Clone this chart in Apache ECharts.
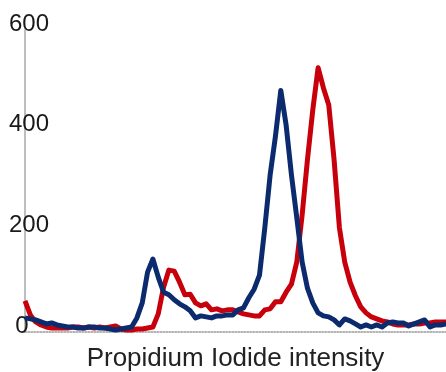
<!DOCTYPE html>
<html>
<head>
<meta charset="utf-8">
<script src="https://cdn.jsdelivr.net/npm/echarts@6/dist/echarts.min.js"></script>
<style>
html,body{margin:0;padding:0;background:#fff;}
#c{width:446px;height:372px;}
</style>
</head>
<body>
<div id="c"></div>
<script>
// channel index (x categories, unlabeled)
const channels = Array.from({length: 80}, (_, i) => String(i + 1));
const yTicks = [0, 200, 400, 600];
const xTitle = 'Propidium Iodide intensity';

const blueCounts = [28,26,24,20,16,18,14,12,10,10,8,8,10,10,8,8,6,4,6,8,
  10,28,58,119,145,109,79,74,64,56,50,42,28,32,30,28,32,32,34,34,
  44,48,68,85,113,207,312,389,480,411,312,227,139,87,58,38,32,30,24,14,
  26,22,16,10,14,10,14,10,18,20,18,18,12,16,20,24,10,14,14,16];
const redCounts = [62,34,20,14,10,8,8,8,8,10,10,8,10,8,10,8,10,12,6,4,
  4,6,6,8,10,36,89,123,121,99,74,75,58,52,56,44,46,42,44,44,
  40,36,34,32,32,44,46,60,60,79,95,139,232,342,441,525,485,451,342,207,
  139,99,72,50,38,30,26,22,20,16,14,14,14,16,16,18,18,20,20,20];

const font = "'Liberation Sans', Arial, sans-serif";
const chart = echarts.init(document.getElementById('c'), null, {renderer: 'canvas'});
chart.setOption({
  animation: false,
  backgroundColor: '#fff',
  grid: {left: 25, right: 0, top: 30, bottom: 40, containLabel: false, outerBoundsMode: 'none'},
  xAxis: {
    type: 'category',
    data: channels,
    boundaryGap: false,
    name: xTitle,
    nameLocation: 'middle',
    nameGap: 14,
    nameTextStyle: {fontFamily: font, fontSize: 26, color: '#222'},
    axisLine: {show: true, onZero: false, lineStyle: {color: '#9a9a9a', width: 1.5, type: 'dotted'}},
    axisTick: {show: false},
    axisLabel: {show: false},
    splitLine: {show: false}
  },
  yAxis: {
    type: 'value',
    min: yTicks[0],
    max: yTicks[yTicks.length - 1],
    interval: 200,
    axisLine: {show: true, lineStyle: {color: '#a8a8a8', width: 1.5}},
    axisTick: {show: false},
    splitLine: {show: false},
    axisLabel: {
      margin: -4,
      align: 'center',
      fontFamily: font,
      fontSize: 24,
      color: '#1a1a1a',
      padding: [0, 0, 12, 0],
      formatter: v => v === 0 ? '{z|0}' : String(v),
      rich: {z: {fontFamily: font, fontSize: 24, color: '#1a1a1a', padding: [0, 14, 0, 0]}}
    }
  },
  series: [
    {type: 'line', data: redCounts, symbol: 'none', z: 2,
     lineStyle: {color: '#c8000b', width: 5, join: 'round'}},
    {type: 'line', data: blueCounts, symbol: 'none', z: 3,
     lineStyle: {color: '#0b2b6e', width: 5, join: 'round'}}
  ]
});
</script>
</body>
</html>
